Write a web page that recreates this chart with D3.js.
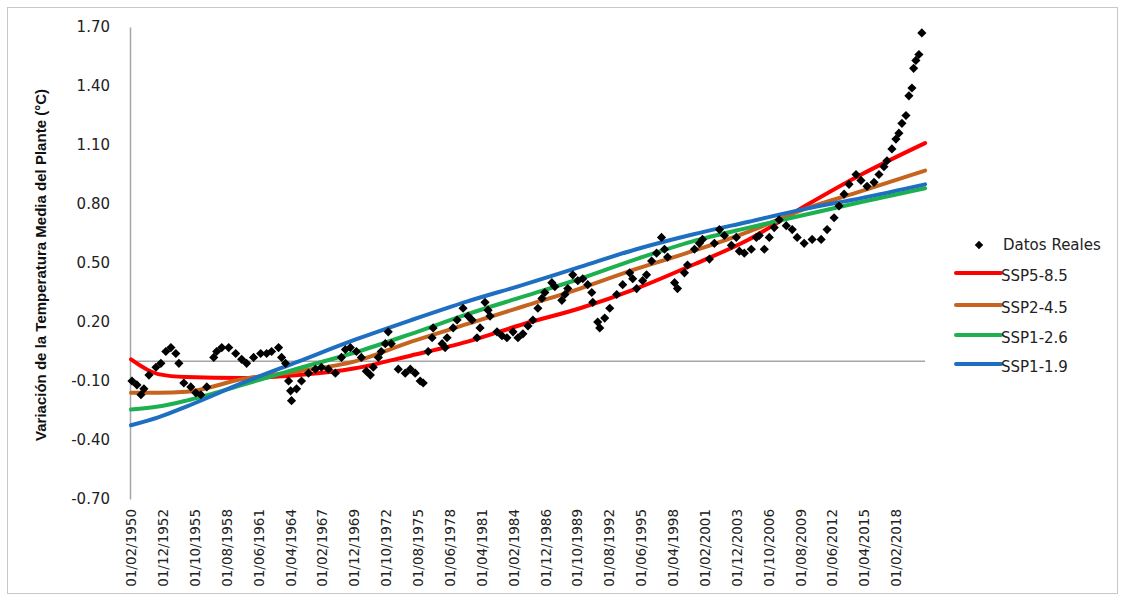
<!DOCTYPE html>
<html><head><meta charset="utf-8">
<script src="https://cdn.jsdelivr.net/npm/d3@7"></script>
<style>body{margin:0;background:#fff}svg{display:block}</style>
</head><body>
<svg id="c" width="1124" height="596"></svg>
<script>
// ---------- DATA ----------
const realDates = [1950.17,1950.61,1950.97,1951.23,1951.68,1952.30,1952.74,1953.18,1953.63,1954.07,1954.34,1954.78,1955.40,1955.84,1956.29,1956.82,1957.44,1957.70,1958.15,1958.77,1959.39,1959.92,1960.36,1960.98,1961.61,1962.14,1962.58,1963.20,1963.47,1963.82,1964.09,1964.27,1964.35,1964.80,1965.24,1965.86,1966.48,1967.01,1967.63,1968.25,1968.79,1969.14,1969.58,1970.12,1970.56,1971.00,1971.36,1971.62,1972.07,1972.33,1972.69,1972.95,1973.22,1973.84,1974.46,1974.91,1975.35,1975.79,1976.06,1976.50,1976.85,1976.94,1977.74,1978.01,1978.18,1978.72,1979.07,1979.60,1980.05,1980.40,1980.84,1981.11,1981.55,1981.82,1982.00,1982.62,1983.06,1983.50,1984.04,1984.48,1984.92,1985.37,1985.81,1986.25,1986.61,1986.87,1987.49,1987.76,1988.38,1988.65,1988.91,1989.35,1989.80,1990.24,1990.68,1991.04,1991.13,1991.57,1991.75,1992.19,1992.64,1993.26,1993.79,1994.41,1994.68,1995.03,1995.56,1995.91,1996.36,1996.80,1997.24,1997.51,1997.78,1998.40,1998.66,1999.28,1999.55,2000.17,2000.61,2000.88,2001.50,2001.94,2002.39,2002.83,2003.45,2003.89,2004.16,2004.60,2005.22,2005.67,2005.93,2006.38,2006.82,2007.26,2007.70,2008.33,2008.86,2009.30,2009.92,2010.63,2011.43,2011.96,2012.58,2013.02,2013.47,2013.91,2014.53,2014.97,2015.51,2016.13,2016.57,2017.01,2017.28,2017.72,2018.08,2018.34,2018.61,2018.97,2019.23,2019.50,2019.65,2019.85,2020.12,2020.38];
const realValues = [-0.10,-0.12,-0.17,-0.14,-0.07,-0.03,-0.01,0.05,0.07,0.04,-0.01,-0.11,-0.13,-0.16,-0.17,-0.13,0.02,0.05,0.07,0.07,0.04,0.01,-0.01,0.02,0.04,0.04,0.05,0.07,0.02,-0.01,-0.10,-0.15,-0.20,-0.14,-0.10,-0.06,-0.04,-0.03,-0.04,-0.06,0.02,0.06,0.07,0.05,0.02,-0.05,-0.07,-0.03,0.02,0.05,0.09,0.15,0.09,-0.04,-0.06,-0.04,-0.06,-0.10,-0.11,0.05,0.12,0.17,0.09,0.07,0.12,0.17,0.21,0.27,0.23,0.21,0.12,0.17,0.30,0.26,0.23,0.15,0.13,0.12,0.15,0.12,0.14,0.18,0.21,0.27,0.32,0.35,0.40,0.38,0.31,0.34,0.37,0.44,0.41,0.42,0.39,0.35,0.30,0.20,0.17,0.22,0.27,0.34,0.39,0.45,0.42,0.37,0.41,0.44,0.51,0.55,0.63,0.57,0.53,0.40,0.37,0.45,0.49,0.57,0.60,0.62,0.52,0.60,0.67,0.64,0.59,0.63,0.56,0.55,0.57,0.63,0.64,0.57,0.63,0.68,0.72,0.69,0.67,0.63,0.60,0.62,0.62,0.67,0.73,0.79,0.85,0.90,0.95,0.92,0.89,0.91,0.95,0.99,1.02,1.08,1.13,1.16,1.21,1.25,1.35,1.39,1.49,1.53,1.56,1.67];

const projYears = [1950.083,1952.5,1955,1960,1965,1970,1975,1980,1985,1990,1995,2000,2005,2010,2015,2020.67];
const ssp585 = [0.01,-0.065,-0.08,-0.085,-0.07,-0.035,0.03,0.10,0.19,0.27,0.37,0.49,0.62,0.79,0.95,1.11];
const ssp245 = [-0.16,-0.16,-0.155,-0.09,-0.05,0.0,0.10,0.19,0.28,0.37,0.47,0.56,0.66,0.775,0.865,0.97];
const ssp126 = [-0.245,-0.23,-0.20,-0.12,-0.035,0.045,0.14,0.24,0.33,0.42,0.52,0.61,0.68,0.745,0.81,0.88];
const ssp119 = [-0.325,-0.285,-0.23,-0.11,0.0,0.11,0.21,0.305,0.39,0.48,0.57,0.645,0.71,0.775,0.83,0.90];

const seriesNames = ["SSP5-8.5","SSP2-4.5","SSP1-2.6","SSP1-1.9"];
const seriesColors = ["#ff0000","#c5631f","#1cb04f","#1e6fc2"];
const realName = "Datos Reales";

const yTicks = [-0.7,-0.4,-0.1,0.2,0.5,0.8,1.1,1.4,1.7];
const xTickLabels = ["01/02/1950","01/12/1952","01/10/1955","01/08/1958","01/06/1961","01/04/1964","01/02/1967","01/12/1969","01/10/1972","01/08/1975","01/06/1978","01/04/1981","01/02/1984","01/12/1986","01/10/1989","01/08/1992","01/06/1995","01/04/1998","01/02/2001","01/12/2003","01/10/2006","01/08/2009","01/06/2012","01/04/2015","01/02/2018"];
const yTitle = "Variación de la Temperatura Media del Plante (°C)";

// ---------- CHART ----------
const svg = d3.select("#c");
const toYear = s => { const p = s.split("/"); return +p[2] + (+p[1]-1)/12; };
const xTickVals = xTickLabels.map(toYear);
const labelOf = new Map(xTickVals.map((v,i)=>[v, xTickLabels[i]]));

const x = d3.scaleLinear().domain([xTickVals[0], xTickVals[xTickVals.length-1]]).range([131, 896]);
const y = d3.scaleLinear().domain([-0.7, 1.7]).range([499, 27]);

// outer border
svg.append("rect").attr("x",7.5).attr("y",7.5).attr("width",1110).attr("height",586)
  .attr("fill","none").attr("stroke","#c8c8c8").attr("stroke-width",1);

// y axis
const fmt = v => v.toFixed(2);
const yAxis = svg.append("g").attr("transform","translate(130,0)")
  .call(d3.axisLeft(y).tickValues(yTicks).tickFormat(fmt).tickSize(0).tickPadding(20));
yAxis.select(".domain").attr("stroke","#a6a6a6").attr("stroke-width",1.5);
yAxis.selectAll("text").attr("font-family","DejaVu Sans, Verdana, sans-serif").attr("font-size",15).attr("fill","#222");

// horizontal zero line
svg.append("line").attr("x1",130).attr("x2",x(2020.67)).attr("y1",y(0)).attr("y2",y(0))
  .attr("stroke","#a6a6a6").attr("stroke-width",1.5);

// x axis labels
const xAxis = svg.append("g").attr("transform",`translate(0,${y(-0.7)})`)
  .call(d3.axisBottom(x).tickValues(xTickVals).tickFormat(d=>labelOf.get(d)).tickSize(0));
xAxis.select(".domain").remove();
xAxis.selectAll("text")
  .attr("font-family","DejaVu Sans, Verdana, sans-serif").attr("font-size",13.5).attr("fill","#222")
  .attr("transform","rotate(-90)").attr("text-anchor","end")
  .attr("x",-10).attr("y",0).attr("dy","0.35em");

// y title
svg.append("text").attr("transform","translate(41,265) rotate(-90)")
  .attr("text-anchor","middle").attr("dominant-baseline","central")
  .attr("font-family","Liberation Sans Narrow, Arial Narrow, Liberation Sans, sans-serif")
  .attr("font-weight","bold").attr("font-size",14).attr("fill","#111")
  .attr("textLength",352).attr("lengthAdjust","spacingAndGlyphs")
  .text(yTitle);

// projection lines
const projSeries = [ssp585, ssp245, ssp126, ssp119];
const line = d3.line().x(d=>x(d[0])).y(d=>y(d[1])).curve(d3.curveMonotoneX);
projSeries.forEach((vals,i)=>{
  svg.append("path").datum(projYears.map((yr,j)=>[yr, vals[j]]))
    .attr("d", line).attr("fill","none").attr("stroke",seriesColors[i])
    .attr("stroke-width",4).attr("stroke-linecap","round").attr("stroke-linejoin","round");
});

// real data markers
const diamond = d3.symbol(d3.symbolSquare, 42);
svg.append("g").selectAll("path").data(realDates.map((d,i)=>[d, realValues[i]])).join("path")
  .attr("d", diamond).attr("fill","#000")
  .attr("transform", d=>`translate(${x(d[0])},${y(d[1])}) rotate(45)`);

// legend
const lg = svg.append("g").attr("font-family","DejaVu Sans, Verdana, sans-serif").attr("font-size",15).attr("fill","#222");
lg.append("path").attr("d",d3.symbol(d3.symbolSquare, 36)).attr("fill","#000").attr("transform","translate(979,245) rotate(45)");
lg.append("text").attr("x",1003).attr("y",245).attr("dominant-baseline","central").text(realName);
const legYs = [273,305,335,364];
seriesNames.forEach((n,i)=>{
  lg.append("line").attr("x1",956).attr("x2",1001).attr("y1",legYs[i]).attr("y2",legYs[i])
    .attr("stroke",seriesColors[i]).attr("stroke-width",4).attr("stroke-linecap","round");
  lg.append("text").attr("x",1001).attr("y",legYs[i]+3).attr("dominant-baseline","central").text(n);
});
</script>
</body></html>
